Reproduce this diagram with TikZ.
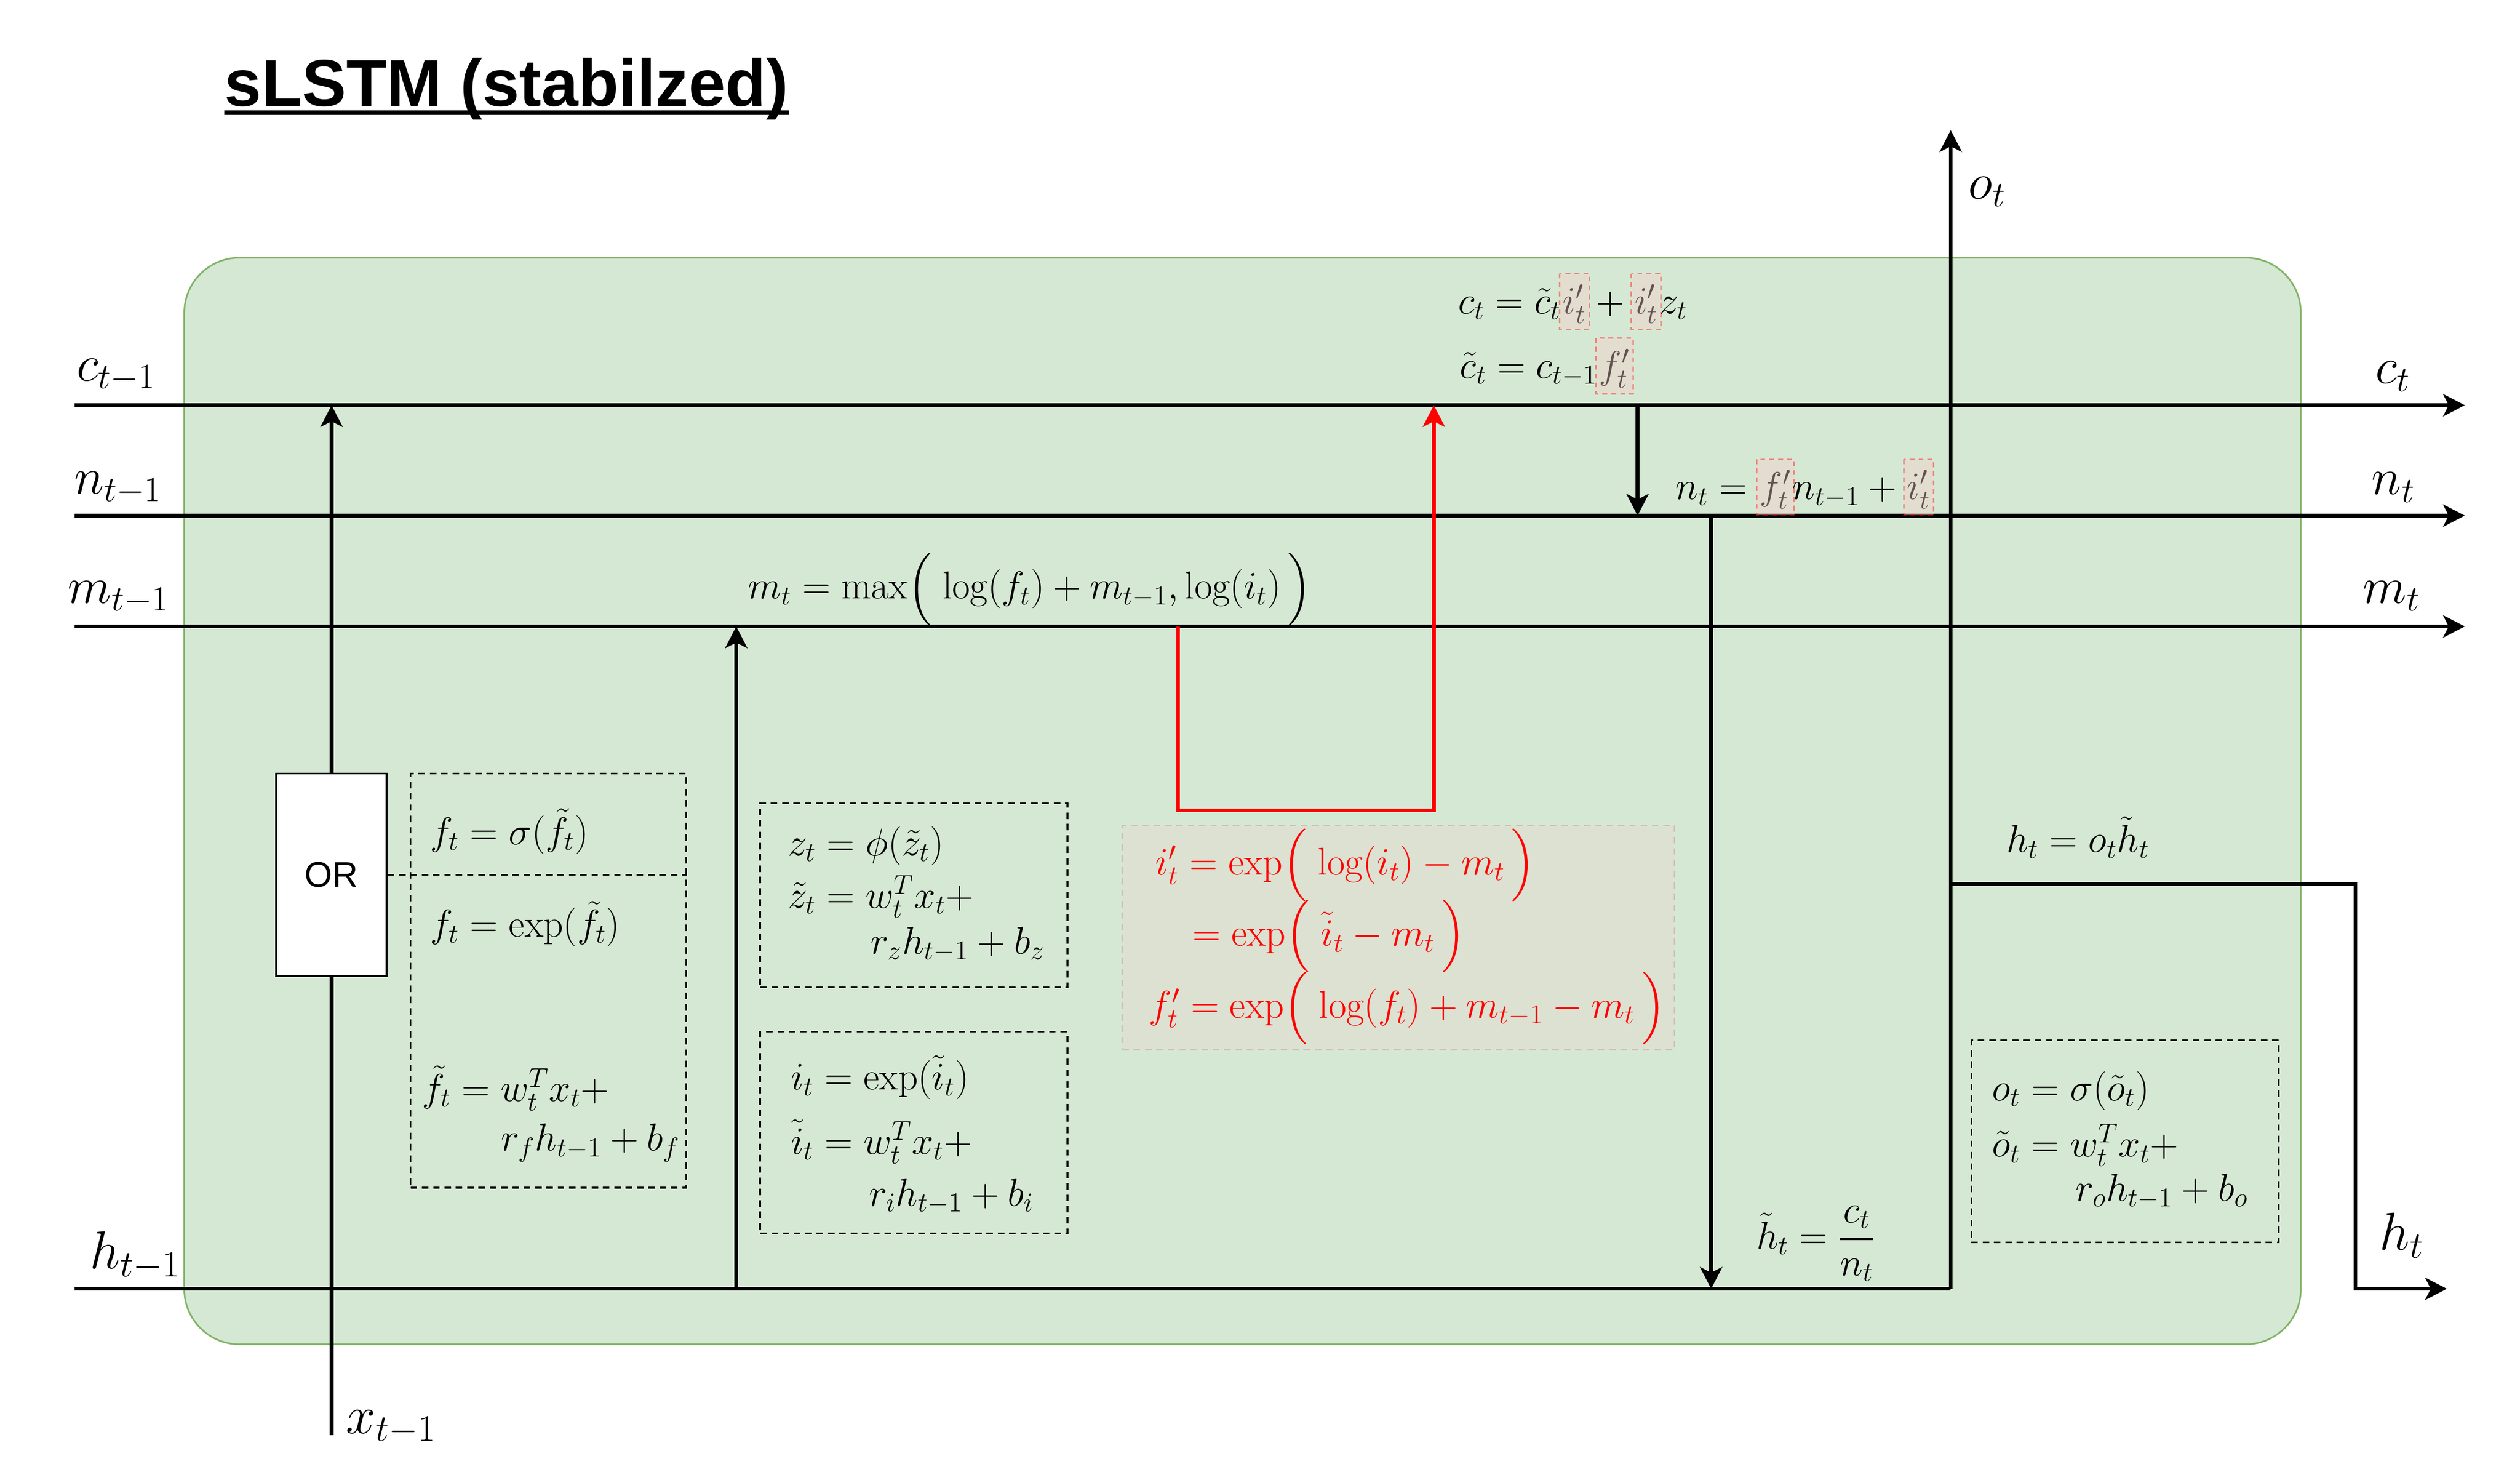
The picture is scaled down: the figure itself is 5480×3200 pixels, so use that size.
\RequirePackage{fix-cm}
\documentclass[tikz,border=0pt]{standalone}
\usepackage{amsmath}
\usepackage{fontspec}
\newfontfamily\titlefont{Liberation Sans}
\usetikzlibrary{arrows.meta}
\definecolor{gfill}{HTML}{D5E8D4}
\definecolor{gline}{HTML}{82B366}
\definecolor{rfill}{HTML}{F8CECC}
\definecolor{rline}{HTML}{B85450}
\tikzset{
  hlbox/.style={draw=red, fill=rfill, opacity=0.4, line width=1pt, dash pattern=on 3pt off 2.5pt},
}
\newcommand{\hl}[1]{\tikz[baseline=(hx.base)]{\node[inner ysep=0pt,inner xsep=0.035cm,outer sep=0pt,anchor=base,draw=none,fill=none](hx){$#1$};\draw[hlbox,overlay]([xshift=-0.035cm,yshift=0.87cm]hx.base west) rectangle ([xshift=0.035cm,yshift=-0.34cm]hx.base east);}}
\newcommand{\bop}{\mathopen{\hbox{$\nulldelimiterspace=0pt\left(\vcenter to 1.7em{}\right.$}}\;}
\newcommand{\bcl}{\,\mathclose{\hbox{$\nulldelimiterspace=0pt\left.\vcenter to 1.7em{}\right)$}}}
\begin{document}
\begin{tikzpicture}[x=0.01cm,y=-0.01cm,
  wire/.style={line width=2.3pt},
  arr/.style={wire,-{Stealth[length=0.47cm,width=0.48cm,inset=0.12cm]}},
  eq/.style={inner sep=0pt, anchor=base west, font=\fontsize{24}{29}\selectfont},
  lbl/.style={inner sep=0pt, anchor=base west, font=\fontsize{31.5}{38}\selectfont},
  lblbig/.style={inner sep=0pt, anchor=base west, font=\fontsize{33}{40}\selectfont},
  dbox/.style={draw, line width=1pt, dash pattern=on 4pt off 3pt, inner sep=0pt},
  cell/.style={draw=gline, fill=gfill, line width=1pt, rounded corners=1.2cm, inner sep=0pt},
  redbox/.style={draw=rline, fill=rfill, opacity=0.25, line width=1pt, dash pattern=on 4pt off 3pt, inner sep=0pt},
  orbox/.style={draw, fill=white, line width=1.2pt, inner sep=0pt, font=\titlefont\fontsize{22}{26}\selectfont},
]
\fill[white] (0,0) rectangle (5480,3200);
\useasboundingbox (0,0) rectangle (5480,3200);

% title
\node[anchor=base west, inner sep=0pt, font=\titlefont\bfseries\fontsize{41}{49}\selectfont] (title) at (488,231) {sLSTM (stabilzed)};
\draw[line width=2.8pt] ([yshift=-0.14cm]title.base west) -- ([yshift=-0.14cm]title.base east);

% cell
\node[cell, minimum width=46cm, minimum height=23.61cm] (cellbox) at (2702,1741.5) {};

% boxes
\node[redbox, minimum width=12cm, minimum height=4.87cm] (rbox) at (3041,2038.5) {};
\node[dbox, minimum width=5.99cm, minimum height=9cm] (fbox) at (1192.5,2132) {};
\node[dbox, minimum width=6.68cm, minimum height=3.99cm] (zbox) at (1987,1946.5) {};
\node[dbox, minimum width=6.68cm, minimum height=4.38cm] (ibox) at (1987,2462) {};
\node[dbox, minimum width=6.68cm, minimum height=4.39cm] (obox) at (4621,2481.5) {};

% coordinates
\coordinate (cin) at (162,881);   \coordinate (cout) at (5360,881);
\coordinate (nin) at (162,1121);  \coordinate (nout) at (5360,1121);
\coordinate (min) at (162,1362);  \coordinate (mout) at (5360,1362);
\coordinate (hin) at (162,2802);  \coordinate (hj) at (4242,2802);
\coordinate (otop) at (4242,283);
\coordinate (xb) at (721,3120);   \coordinate (xc) at (721,881);
\coordinate (mh) at (1601,2802);  \coordinate (mm) at (1601,1362);
\coordinate (r1) at (2562,1362);  \coordinate (r2) at (2562,1762);
\coordinate (r3) at (3118,1762);  \coordinate (r4) at (3118,881);
\coordinate (dc) at (3561,881);   \coordinate (dn) at (3561,1121);
\coordinate (tn) at (3721,1121);  \coordinate (th) at (3721,2802);
\coordinate (hs) at (4242,1922);  \coordinate (hc) at (5122,1922);
\coordinate (hd) at (5122,2802);  \coordinate (hout) at (5321,2802);

% OR gate
\node[orbox, minimum width=2.4cm, minimum height=4.4cm] (or) at (721,1902) {OR};
\draw[dbox] (or.east) -- (or.east -| fbox.east);

% wires
\draw[arr] (cin) -- (cout);
\draw[arr] (nin) -- (nout);
\draw[arr] (min) -- (mout);
\draw[wire] (hin) -- (hj);
\draw[arr] (hj) -- (otop);
\draw[wire] (xb) -- (or.south);
\draw[arr] (or.north) -- (xc);
\draw[arr] (mh) -- (mm);
\draw[arr, red] (r1) -- (r2) -- (r3) -- (r4);
\draw[arr] (dc) -- (dn);
\draw[arr] (tn) -- (th);
\draw[arr] (hs) -- (hc) -- (hd) -- (hout);

% labels
\node[lbl] (lc0) at (166,828) {$c_{t-1}$};
\node[lbl] (ln0) at (161,1073) {$n_{t-1}$};
\node[lbl] (lm0) at (147,1311) {$m_{t-1}$};
\node[lblbig] (lh0) at (195,2758) {$h_{t-1}$};
\node[lblbig] (lx0) at (752,3116) {$x_{t-1}$};
\node[lbl] (lc1) at (5165,834) {$c_t$};
\node[lbl] (ln1) at (5157,1075) {$n_t$};
\node[lbl] (lm1) at (5138,1311) {$m_t$};
\node[lbl] (lo1) at (4280,432) {$o_t$};
\node[lblbig] (lh1) at (5174,2718) {$h_t$};

% state equations
\node[eq] (eqc) at (3170,682) {$c_t = \tilde{c}_t\hl{i'_t} + \hl{i'_t}z_t$};
\node[eq] (eqct) at (3174,822) {$\tilde{c}_t = c_{t-1}\hl{f'_t}$};
\node[eq] (eqn) at (3643,1086) {$n_t = \hl{f'_t}n_{t-1} + \hl{i'_t}$};
\node[eq] (eqm) at (1626,1302) {$m_t = \max\bop\log(f_t) + m_{t-1}, \log(i_t)\bcl$};

% stabilized gates
\node[eq, text=red] (eqr1) at (2512,1902) {$i'_t = \exp\bop\log(i_t) - m_t\bcl$};
\node[eq, text=red] (eqr2) at (2593,2057) {$= \exp\bop\tilde{i}_t - m_t\bcl$};
\node[eq, text=red] (eqr3) at (2498,2213) {$f'_t = \exp\bop\log(f_t) + m_{t-1} - m_t\bcl$};

% forget gate
\node[eq] (eqf1) at (935,1836) {$f_t = \sigma(\tilde{f}_t)$};
\node[eq] (eqf2) at (935,2037) {$f_t = \exp(\tilde{f}_t)$};
\node[eq] (eqf3) at (917,2394) {$\tilde{f}_t = w_t^T x_t+$};
\node[eq] (eqf4) at (1089,2502) {$r_f h_{t-1} + b_f$};

% cell input
\node[eq] (eqz1) at (1713,1860) {$z_t = \phi(\tilde{z}_t)$};
\node[eq] (eqz2) at (1713,1974) {$\tilde{z}_t = w_t^T x_t+$};
\node[eq] (eqz3) at (1893,2074) {$r_z h_{t-1} + b_z$};

% input gate
\node[eq] (eqi1) at (1719,2369) {$i_t = \exp(\tilde{i}_t)$};
\node[eq] (eqi2) at (1719,2509) {$\tilde{i}_t = w_t^T x_t+$};
\node[eq] (eqi3) at (1889,2622) {$r_i h_{t-1} + b_i$};

% output gate
\node[eq] (eqo1) at (4331,2393) {$o_t = \sigma(\tilde{o}_t)$};
\node[eq] (eqo2) at (4331,2515) {$\tilde{o}_t = w_t^T x_t+$};
\node[eq] (eqo3) at (4513,2611) {$r_o h_{t-1} + b_o$};

% hidden state
\node[eq] (eqh) at (4363,1853) {$h_t = o_t\tilde{h}_t$};
\node[eq] (eqht) at (3819,2715) {$\tilde{h}_t = \dfrac{c_t}{n_t}$};
\end{tikzpicture}
\end{document}
